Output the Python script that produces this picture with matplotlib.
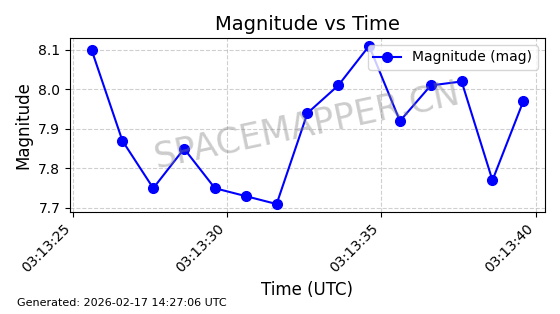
import matplotlib
matplotlib.use("Agg")
import matplotlib.pyplot as plt
import matplotlib.dates as mdates
import pandas as pd

times = pd.to_datetime([
    "2026-02-17 03:13:25.6", "2026-02-17 03:13:26.6", "2026-02-17 03:13:27.6",
    "2026-02-17 03:13:28.6", "2026-02-17 03:13:29.6", "2026-02-17 03:13:30.6",
    "2026-02-17 03:13:31.6", "2026-02-17 03:13:32.6", "2026-02-17 03:13:33.6",
    "2026-02-17 03:13:34.6", "2026-02-17 03:13:35.6", "2026-02-17 03:13:36.6",
    "2026-02-17 03:13:37.6", "2026-02-17 03:13:38.6", "2026-02-17 03:13:39.6",
])
magnitudes = [8.10, 7.87, 7.75, 7.85, 7.75, 7.73, 7.71, 7.94,
              8.01, 8.11, 7.92, 8.01, 8.02, 7.77, 7.97]

fig, ax = plt.subplots(figsize=(5.6, 3.14), dpi=100)
fig.subplots_adjust(left=0.125, right=0.973, top=0.879, bottom=0.325)

ax.plot(times, magnitudes, marker="o", color="b", linewidth=1.5,
        markersize=7, label="Magnitude (mag)")

ax.set_title("Magnitude vs Time", fontsize=14)
ax.set_xlabel("Time (UTC)", fontsize=12)
ax.set_ylabel("Magnitude", fontsize=12)
ax.grid(True, linestyle="--", alpha=0.6)
ax.legend(loc="upper right", fontsize=10)

ax.xaxis.set_major_formatter(mdates.DateFormatter("%H:%M:%S"))
plt.setp(ax.get_xticklabels(), rotation=45, ha="right")

# watermark
ax.text(0.5, 0.5, "SPACEMAPPER.CN", transform=ax.transAxes,
        fontsize=25, color="gray", alpha=0.4, rotation=12,
        ha="center", va="center")

fig.text(0.03, 0.025, "Generated: 2026-02-17 14:27:06 UTC", fontsize=8)

fig.savefig("out.png", dpi=100, facecolor="white")
